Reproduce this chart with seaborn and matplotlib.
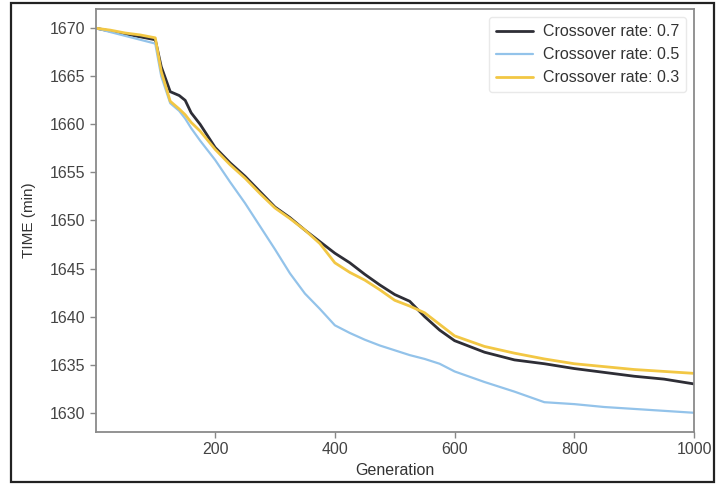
"""Crossover-rate convergence plot: TIME (min) vs generation."""

import matplotlib
matplotlib.use("Agg")
import matplotlib.pyplot as plt
from matplotlib.patches import Rectangle
import pandas as pd
import seaborn as sns

# Generations sampled along the curves
GENERATIONS = [1, 25, 50, 75, 100, 110, 125, 140, 150, 160, 175, 200, 225, 250,
               275, 300, 325, 350, 375, 400, 425, 450, 475, 500, 525, 550, 575,
               600, 650, 700, 750, 800, 850, 900, 950, 1000]

TIME_07 = [1670.0, 1669.7, 1669.4, 1669.1, 1668.8, 1666.0, 1663.4, 1663.0, 1662.5,
           1661.2, 1660.0, 1657.6, 1656.0, 1654.6, 1653.0, 1651.4, 1650.3, 1649.0,
           1647.8, 1646.6, 1645.6, 1644.4, 1643.3, 1642.3, 1641.6, 1640.0, 1638.6,
           1637.5, 1636.3, 1635.5, 1635.1, 1634.6, 1634.2, 1633.8, 1633.5, 1633.0]

TIME_05 = [1670.0, 1669.6, 1669.2, 1668.8, 1668.4, 1665.0, 1662.2, 1661.4, 1660.6,
           1659.6, 1658.3, 1656.3, 1654.0, 1651.8, 1649.4, 1647.0, 1644.5, 1642.4,
           1640.8, 1639.1, 1638.3, 1637.6, 1637.0, 1636.5, 1636.0, 1635.6, 1635.1,
           1634.3, 1633.2, 1632.2, 1631.1, 1630.9, 1630.6, 1630.4, 1630.2, 1630.0]

TIME_03 = [1670.0, 1669.8, 1669.5, 1669.3, 1669.0, 1665.5, 1662.4, 1661.6, 1661.0,
           1660.2, 1659.3, 1657.4, 1655.8, 1654.4, 1652.8, 1651.3, 1650.2, 1649.0,
           1647.6, 1645.6, 1644.6, 1643.8, 1642.8, 1641.7, 1641.1, 1640.4, 1639.2,
           1638.0, 1636.9, 1636.2, 1635.6, 1635.1, 1634.8, 1634.5, 1634.3, 1634.1]

SERIES = [
    ("Crossover rate: 0.7", TIME_07, "#2e2e36", 2.0),
    ("Crossover rate: 0.5", TIME_05, "#93c3ea", 1.6),
    ("Crossover rate: 0.3", TIME_03, "#f2c744", 2.0),
]

sns.set_style("ticks")
plt.rcParams["font.family"] = ["Liberation Sans", "DejaVu Sans"]

fig = plt.figure(figsize=(7.24, 4.86), dpi=100)
ax = fig.add_axes([0.1326, 0.1111, 0.8260, 0.8704])

for label, values, color, lw in SERIES:
    df = pd.DataFrame({"Generation": GENERATIONS, "TIME (min)": values})
    sns.lineplot(data=df, x="Generation", y="TIME (min)", color=color,
                 linewidth=lw, label=label, ax=ax)

ax.set_xlim(1, 1000)
ax.set_xticks([200, 400, 600, 800, 1000])
ax.set_yticks([1630, 1635, 1640, 1645, 1650, 1655, 1660, 1665, 1670])
ax.set_xlabel("Generation", fontsize=11.5, color="#333333", labelpad=4)
ax.set_ylabel("TIME (min)", fontsize=11, color="#333333", labelpad=10)
ax.tick_params(labelsize=11.5, colors="#444444", length=4, width=1, color="#888888")
for s in ax.spines.values():
    s.set_color("#8a8a8a")
    s.set_linewidth(1.3)

leg = ax.legend(loc="upper right", fontsize=11.5, frameon=True, handlelength=2.3,
                borderpad=0.45, labelspacing=0.5, handletextpad=0.6)
leg.get_frame().set_edgecolor("#e4e4e4")
for t in leg.get_texts():
    t.set_color("#333333")

# screenshot frame around the figure
fig.patches.append(Rectangle((11 / 724, 4 / 486), 703 / 724, 479 / 486,
                             transform=fig.transFigure, fill=False,
                             edgecolor="#222222", linewidth=1.6))

fig.savefig("out.png", dpi=100)
plt.close(fig)
